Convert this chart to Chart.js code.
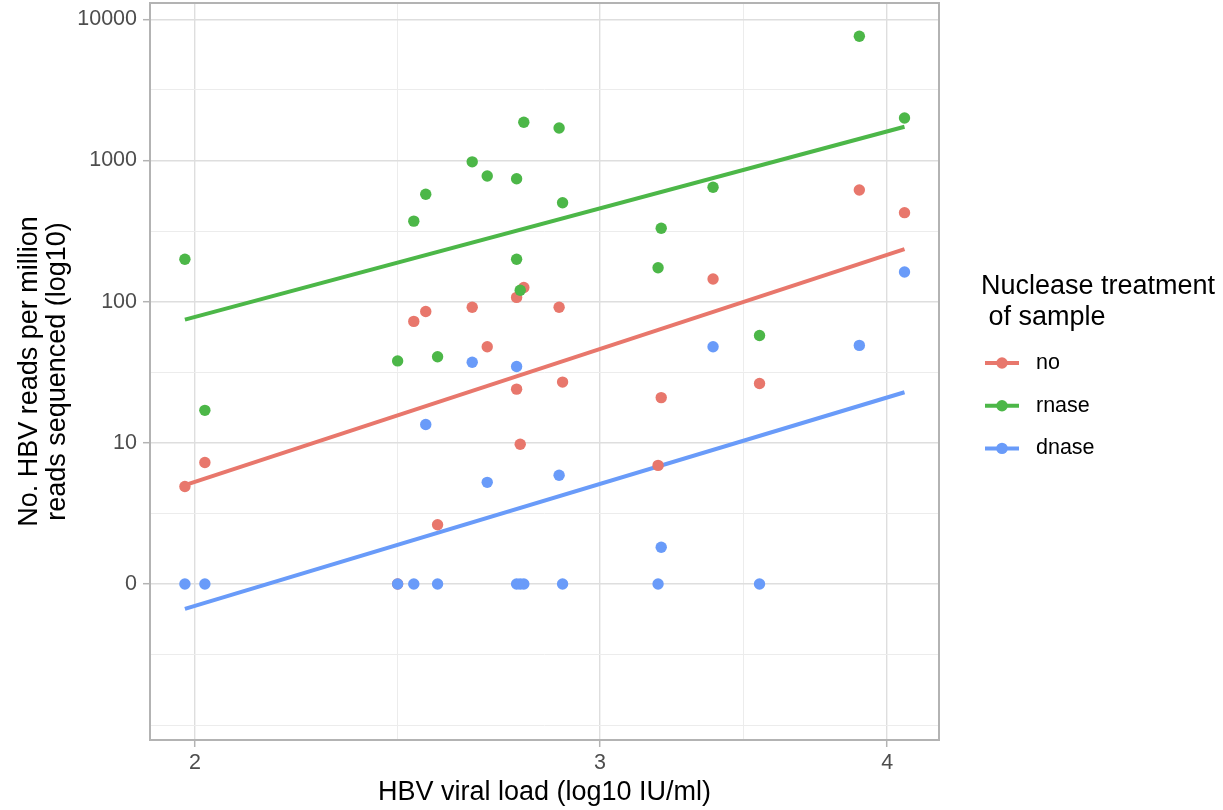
<!DOCTYPE html>
<html>
<head>
<meta charset="utf-8">
<script src="https://cdn.jsdelivr.net/npm/chart.js@4.4.0/dist/chart.umd.min.js"></script>
<style>
  html, body { margin: 0; padding: 0; background: #fff; }
</style>
</head>
<body>
<canvas id="hbvChart" width="1223" height="810"></canvas>
<script>
// viral load per sample (IU/ml value on the log10 axis), one entry per sample
const viralLoad = [1.98, 2.02, 2.45, 2.49, 2.52, 2.55, 2.64, 2.68, 2.76, 2.76,
                   2.77, 2.78, 2.88, 2.89, 3.18, 3.19, 3.36, 3.52, 3.89, 4.07];
// log10 reads per million, per nuclease treatment
const readsNo    = [0.69, 0.86, 0.00, 1.86, 1.93, 0.42, 1.96, 1.68, 2.03, 1.38,
                    0.99, 2.10, 1.96, 1.43, 0.84, 1.32, 2.16, 1.42, 2.79, 2.63];
const readsRnase = [2.30, 1.23, 1.58, 2.57, 2.76, 1.61, 2.99, 2.89, 2.87, 2.30,
                    2.08, 3.27, 3.23, 2.70, 2.24, 2.52, 2.81, 1.76, 3.88, 3.30];
const readsDnase = [0.00, 0.00, 0.00, 0.00, 1.13, 0.00, 1.57, 0.72, 1.54, 0.00,
                    0.00, 0.00, 0.77, 0.00, 0.00, 0.26, 1.68, 0.00, 1.69, 2.21];

const groups = ['no', 'rnase', 'dnase'];
const groupColors = ['#e8776c', '#4cb748', '#699bf9'];

const xMajorTicks = [2, 3, 4];
const yMajorTicks = [0, 1, 2, 3, 4];
const yTickLabels = ['0', '10', '100', '1000', '10000'];

// minor breaks sit halfway between majors in transformed space
const xTicks = [];
xMajorTicks.forEach((v, i) => {
  xTicks.push(v);
  if (i < xMajorTicks.length - 1) xTicks.push(Math.sqrt(v * xMajorTicks[i + 1]));
});
const yTicks = [];
for (let k = -2; k <= 8; k++) yTicks.push(k / 2);

// lm fit of log10 reads on log10 viral load
function fitLine(xs, ys) {
  const lx = xs.map(Math.log10);
  const n = lx.length;
  const mx = lx.reduce((a, b) => a + b, 0) / n;
  const my = ys.reduce((a, b) => a + b, 0) / n;
  let sxy = 0, sxx = 0;
  lx.forEach((v, i) => { sxy += (v - mx) * (ys[i] - my); sxx += (v - mx) ** 2; });
  const slope = sxy / sxx;
  const ends = [Math.min(...xs), Math.max(...xs)];
  return ends.map(x => ({ x: x, y: my + slope * (Math.log10(x) - mx) }));
}

const series = [readsNo, readsRnase, readsDnase];
const datasets = [];
series.forEach((ys, i) => {
  datasets.push({
    label: groups[i] + ' fit',
    data: fitLine(viralLoad, ys),
    showLine: true,
    borderColor: groupColors[i],
    borderWidth: 4,
    borderCapStyle: 'butt',
    pointRadius: 0,
    order: 10
  });
});
series.forEach((ys, i) => {
  datasets.push({
    label: groups[i],
    data: viralLoad.map((x, j) => ({ x: x, y: ys[j] })),
    backgroundColor: groupColors[i],
    borderWidth: 0,
    pointRadius: 5.7,
    order: 3 - i
  });
});

const FONT = '"Liberation Sans", Arial, sans-serif';
const tickFont = { family: FONT, size: 21.5, lineHeight: 1.2 };
const titleFont = { family: FONT, size: 27, lineHeight: 1.05 };

const isMajor = (list, v) => list.includes(v);

const panelBorder = {
  id: 'panelBorder',
  afterDatasetsDraw(chart) {
    const { ctx, chartArea: a } = chart;
    ctx.save();
    ctx.strokeStyle = '#b3b3b3';
    ctx.lineWidth = 2;
    ctx.strokeRect(a.left, a.top, a.right - a.left, a.bottom - a.top);
    ctx.restore();
  }
};

const sideLegend = {
  id: 'sideLegend',
  afterDraw(chart) {
    const ctx = chart.ctx;
    ctx.save();
    ctx.textBaseline = 'middle';
    ctx.textAlign = 'left';
    ctx.fillStyle = '#000';
    ctx.font = '27px ' + FONT;
    ctx.fillText('Nuclease treatment', 981, 287);
    ctx.fillText(' of sample', 981, 318);
    groups.forEach((g, i) => {
      const y = 363 + i * 42.7;
      ctx.strokeStyle = groupColors[i];
      ctx.lineWidth = 4;
      ctx.beginPath();
      ctx.moveTo(985, y);
      ctx.lineTo(1019, y);
      ctx.stroke();
      ctx.fillStyle = groupColors[i];
      ctx.beginPath();
      ctx.arc(1002, y, 5.7, 0, Math.PI * 2);
      ctx.fill();
      ctx.fillStyle = '#000';
      ctx.font = '21.5px ' + FONT;
      ctx.fillText(g, 1036, y);
    });
    ctx.restore();
  }
};

new Chart(document.getElementById('hbvChart'), {
  type: 'scatter',
  data: { datasets: datasets },
  plugins: [panelBorder, sideLegend],
  options: {
    responsive: false,
    animation: false,
    layout: { autoPadding: false, padding: { left: 0, top: 3, right: 284, bottom: 0 } },
    plugins: { legend: { display: false }, tooltip: { enabled: false } },
    scales: {
      x: {
        type: 'logarithmic',
        min: 1.912,
        max: 4.213,
        bounds: 'data',
        afterBuildTicks: s => { s.ticks = xTicks.map(v => ({ value: v })); },
        afterFit: s => { s.height = 70; s.paddingLeft = 0; s.paddingRight = 0; },
        ticks: {
          autoSkip: false, maxRotation: 0, minRotation: 0, padding: 3,
          color: '#4d4d4d', font: tickFont,
          callback: v => isMajor(xMajorTicks, v) ? String(v) : ''
        },
        grid: {
          color: c => isMajor(xMajorTicks, c.tick.value) ? '#dedede' : '#ececec',
          lineWidth: c => isMajor(xMajorTicks, c.tick.value) ? 1.4 : 1,
          tickColor: c => isMajor(xMajorTicks, c.tick.value) ? '#b3b3b3' : 'rgba(0,0,0,0)',
          tickLength: 7,
          tickWidth: 1.5
        },
        border: { display: false },
        title: {
          display: true, text: 'HBV viral load (log10 IU/ml)', color: '#000',
          font: titleFont, padding: { top: 0, bottom: 3 }
        }
      },
      y: {
        type: 'linear',
        min: -1.105,
        max: 4.115,
        bounds: 'data',
        afterBuildTicks: s => { s.ticks = yTicks.map(v => ({ value: v })); },
        afterFit: s => { s.width = 150; s.paddingTop = 0; s.paddingBottom = 0; },
        ticks: {
          autoSkip: false, padding: 6, color: '#4d4d4d', font: tickFont,
          callback: v => { const k = yMajorTicks.indexOf(v); return k >= 0 ? yTickLabels[k] : ''; }
        },
        grid: {
          color: c => isMajor(yMajorTicks, c.tick.value) ? '#dedede' : '#ececec',
          lineWidth: c => isMajor(yMajorTicks, c.tick.value) ? 1.4 : 1,
          tickColor: c => isMajor(yMajorTicks, c.tick.value) ? '#b3b3b3' : 'rgba(0,0,0,0)',
          tickLength: 7,
          tickWidth: 1.5
        },
        border: { display: false },
        title: {
          display: true, text: ['No. HBV reads per million', 'reads sequenced (log10)'],
          color: '#000', font: titleFont, padding: { top: 15, bottom: 0 }
        }
      }
    }
  }
});
</script>
</body>
</html>
